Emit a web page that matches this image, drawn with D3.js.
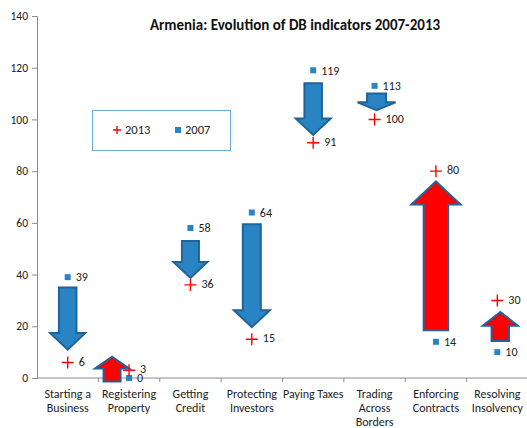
<!DOCTYPE html>
<html>
<head>
<meta charset="utf-8">
<script src="https://cdn.jsdelivr.net/npm/d3@7"></script>
<style>
  body { margin: 0; background: #fff; }
  svg { font-family: Carlito, Lato, "Liberation Sans", sans-serif; }
</style>
</head>
<body>
<div class="container"></div>
<script>
// data
const categories = ['Starting a Business', 'Registering Property', 'Getting Credit', 'Protecting Investors',
    'Paying Taxes', 'Trading Across Borders', 'Enforcing Contracts', 'Resolving Insolvency']
const tickLines = [['Starting a', 'Business'], ['Registering', 'Property'], ['Getting', 'Credit'],
    ['Protecting', 'Investors'], ['Paying Taxes'], ['Trading', 'Across', 'Borders'],
    ['Enforcing', 'Contracts'], ['Resolving', 'Insolvency']]
const values2007 = [39, 0, 58, 64, 119, 113, 14, 10]
const values2013 = [6, 3, 36, 15, 91, 100, 80, 30]
// arrow extents (chart units) as drawn in the original
const arrowFrom = [35, -1.4, 53, 59.5, 114, 110, 18.5, 14.3]
const arrowTo = [11, 8.2, 38.7, 19.7, 94, 103.6, 76, 25.5]
const yTicks = [0, 20, 40, 60, 80, 100, 120, 140]

const width = 527
const height = 428
const margin = { top: 16, left: 37, right: 0, bottom: 50 }

// per-arrow look
const arrowWidth = [35, 34, 34, 36, 35, 38, 49, 35]
const arrowShift = [0, -17, 0, 0, 0, 2, 0, 3]

const blue = '#2a84c4'
const red = '#ff0000'

let svg = d3.select('.container')
    .append('svg')
    .attr('width', width)
    .attr('height', height)

let x = d3.scaleBand()
    .domain(categories)
    .range([margin.left, 528])
    .padding(0)

let y = d3.scaleLinear()
    .domain([0, 140])
    .range([378, margin.top])

// y axis
let yAxis = d3.axisLeft(y).tickValues(yTicks).tickSize(5).tickPadding(4)
let gy = svg.append('g')
    .attr('transform', `translate(${margin.left},0)`)
    .call(yAxis)
gy.select('.domain').attr('stroke', '#8c8c8c')
gy.selectAll('.tick line').attr('stroke', '#8c8c8c')
gy.selectAll('.tick text').attr('font-size', 11.5).attr('fill', '#222')
    .attr('font-family', 'Carlito, Lato, sans-serif')

// x axis with ticks at category borders
svg.append('line')
    .attr('x1', margin.left).attr('x2', 528)
    .attr('y1', y(0)).attr('y2', y(0))
    .attr('stroke', '#8c8c8c')
svg.selectAll('.xtick')
    .data(categories)
    .enter()
    .append('line')
    .attr('x1', d => x(d) + x.bandwidth()).attr('x2', d => x(d) + x.bandwidth())
    .attr('y1', y(0)).attr('y2', y(0) + 4)
    .attr('stroke', '#8c8c8c')

let labels = svg.selectAll('.xlab')
    .data(categories)
    .enter()
    .append('text')
    .attr('text-anchor', 'middle')
    .attr('font-size', 12)
    .attr('fill', '#222')
    .attr('transform', d => `translate(${x(d) + x.bandwidth() / 2},398)`)
labels.selectAll('tspan')
    .data((d, i) => tickLines[i])
    .enter()
    .append('tspan')
    .attr('x', 0)
    .attr('y', (d, i) => i * 14)
    .text(d => d)

// arrows
function arrowPath(cx, y1, y2, w) {
    let dir = y2 > y1 ? 1 : -1
    let len = Math.abs(y2 - y1)
    let head = Math.min(w, len) * 0.47
    let sw = w / 2
    let yb = y2 - dir * head
    return `M${cx - sw / 2},${y1}L${cx + sw / 2},${y1}L${cx + sw / 2},${yb}L${cx + w / 2},${yb}` +
        `L${cx},${y2}L${cx - w / 2},${yb}L${cx - sw / 2},${yb}Z`
}

svg.selectAll('.arrow')
    .data(categories)
    .enter()
    .append('path')
    .attr('d', (d, i) => arrowPath(x(d) + x.bandwidth() / 2 + arrowShift[i], y(arrowFrom[i]), y(arrowTo[i]), arrowWidth[i]))
    .attr('fill', (d, i) => values2013[i] > values2007[i] ? red : blue)
    .attr('stroke', '#1f6498')
    .attr('stroke-width', 2)
    .attr('stroke-linejoin', 'miter')

// 2007 squares
svg.selectAll('.sq')
    .data(categories)
    .enter()
    .append('rect')
    .attr('x', d => x(d) + x.bandwidth() / 2 - 3)
    .attr('y', (d, i) => y(values2007[i]) - 3)
    .attr('width', 6)
    .attr('height', 6)
    .attr('fill', blue)

svg.selectAll('.sqlab')
    .data(categories)
    .enter()
    .append('text')
    .attr('x', d => x(d) + x.bandwidth() / 2 + 8)
    .attr('y', (d, i) => y(values2007[i]))
    .attr('dy', '0.35em')
    .attr('font-size', 12)
    .attr('fill', '#222')
    .text((d, i) => values2007[i])

// 2013 pluses
svg.selectAll('.plus')
    .data(categories)
    .enter()
    .append('path')
    .attr('d', (d, i) => {
        let cx = x(d) + x.bandwidth() / 2
        let cy = y(values2013[i])
        return `M${cx - 6},${cy}H${cx + 6}M${cx},${cy - 6}V${cy + 6}`
    })
    .attr('stroke', red)
    .attr('stroke-width', 1.4)

svg.selectAll('.pluslab')
    .data(categories)
    .enter()
    .append('text')
    .attr('x', d => x(d) + x.bandwidth() / 2 + 11)
    .attr('y', (d, i) => y(values2013[i]) - 1)
    .attr('dy', '0.35em')
    .attr('font-size', 12)
    .attr('fill', '#222')
    .text((d, i) => values2013[i])

// title
svg.append('text')
    .attr('x', 295)
    .attr('y', 30)
    .attr('text-anchor', 'middle')
    .attr('font-size', 15)
    .attr('font-weight', 'bold')
    .attr('fill', '#111')
    .text('Armenia: Evolution of DB indicators 2007-2013')

// legend
let legend = svg.append('g')
svg.append('rect')
    .attr('x', 92.5).attr('y', 110.5)
    .attr('width', 138).attr('height', 40)
    .attr('fill', 'none')
    .attr('stroke', '#6aaee0')
legend.append('path')
    .attr('d', 'M113,130H121M117,126V134')
    .attr('stroke', red).attr('stroke-width', 1.4)
legend.append('text')
    .attr('x', 125).attr('y', 130).attr('dy', '0.35em')
    .attr('font-size', 12.5).attr('fill', '#222')
    .text('2013')
legend.append('rect')
    .attr('x', 175).attr('y', 127)
    .attr('width', 6).attr('height', 6)
    .attr('fill', blue)
legend.append('text')
    .attr('x', 185).attr('y', 130).attr('dy', '0.35em')
    .attr('font-size', 12.5).attr('fill', '#222')
    .text('2007')
</script>
</body>
</html>
